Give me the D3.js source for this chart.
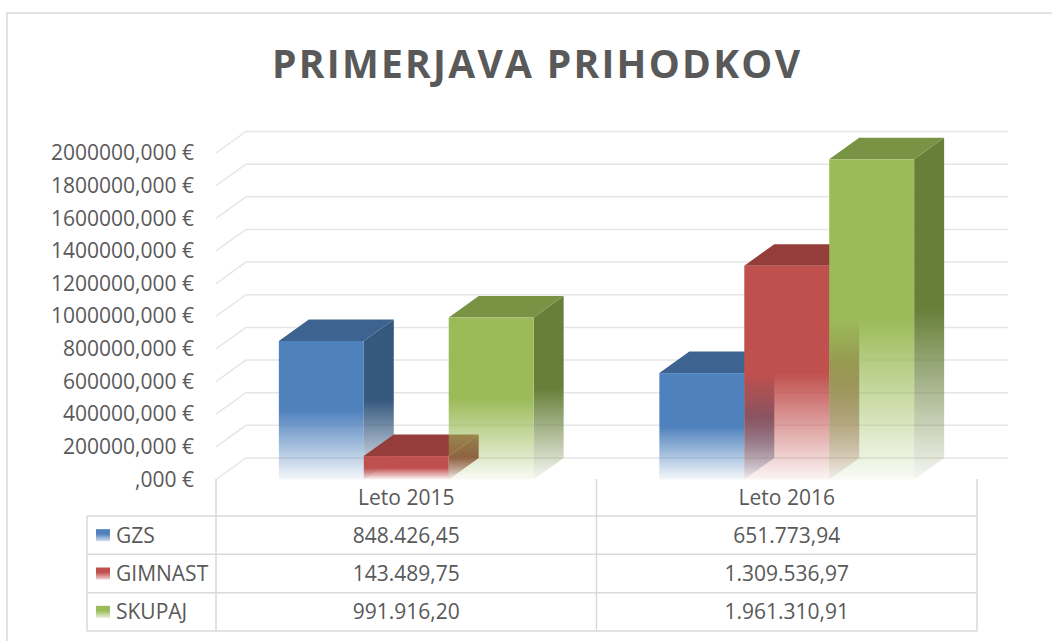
<!DOCTYPE html>
<html>
<head>
<meta charset="utf-8">
<script src="https://cdn.jsdelivr.net/npm/d3@7/dist/d3.min.js"></script>
<style>
  body { margin: 0; background: #fff; }
  text { font-family: "Open Sans", sans-serif; fill: #595959; }
</style>
</head>
<body>
<script>
// data
const categories = ["Leto 2015", "Leto 2016"];
const series = ["GZS", "GIMNAST", "SKUPAJ"];
const gzs = [848426.45, 651773.94];
const gimnast = [143489.75, 1309536.97];
const skupaj = [991916.20, 1961310.91];
const yTicks = [0, 200000, 400000, 600000, 800000, 1000000, 1200000, 1400000, 1600000, 1800000, 2000000];
const title = "PRIMERJAVA PRIHODKOV";

const values = [gzs, gimnast, skupaj];
const colors = [
    { front: "#4f81bd", top: "#3d6491", side: "#35587f" },
    { front: "#c0504d", top: "#943d3a", side: "#8a3937" },
    { front: "#9bbb59", top: "#789343", side: "#677f39" }
];

const width = 1052, height = 641;
// depth of the 3D box (offset of the back wall)
const depth = { dx: 30, dy: -21.5 };

const svg = d3.select("body").append("svg")
    .attr("width", width)
    .attr("height", height);

const defs = svg.append("defs");
colors.forEach((c, i) => {
    [["front", c.front], ["side", c.side]].forEach(([k, col]) => {
        const g = defs.append("linearGradient")
            .attr("id", "fade-" + k + "-" + i)
            .attr("x1", 0).attr("y1", 0).attr("x2", 0).attr("y2", 1);
        g.append("stop").attr("offset", 0).attr("stop-color", col).attr("stop-opacity", 1);
        g.append("stop").attr("offset", 0.5).attr("stop-color", col).attr("stop-opacity", 1);
        g.append("stop").attr("offset", 1).attr("stop-color", col).attr("stop-opacity", 0.06);
    });
    const lg = defs.append("linearGradient")
        .attr("id", "swatch-" + i)
        .attr("x1", 0).attr("y1", 0).attr("x2", 0).attr("y2", 1);
    lg.append("stop").attr("offset", 0.4).attr("stop-color", c.front);
    lg.append("stop").attr("offset", 1).attr("stop-color", c.front).attr("stop-opacity", 0.25);
});

// outer chart border
svg.append("path")
    .attr("d", "M7," + height + "V13H" + width)
    .attr("fill", "none")
    .attr("stroke", "#d9d9d9")
    .attr("stroke-width", 1.5);

// title
svg.append("text")
    .attr("x", 272)
    .attr("y", 78)
    .attr("textLength", 528)
    .attr("lengthAdjust", "spacing")
    .style("font-size", "39px")
    .style("font-weight", "bold")
    .text(title);

// scales
const x0 = d3.scaleBand()
    .domain(categories)
    .range([216, 977]);

const x1 = d3.scaleBand()
    .domain(series)
    .range([0, x0.bandwidth()])
    .paddingOuter(0.74);

const y = d3.scaleLinear()
    .domain([0, 2000000])
    .range([479.5, 153]);

// gridlines: left wall diagonals and back wall horizontals
const grid = svg.append("g")
    .attr("stroke", "#e6e6e6")
    .attr("stroke-width", 1.5)
    .attr("fill", "none");

grid.selectAll("path")
    .data(yTicks)
    .enter().append("path")
    .attr("d", d => "M" + x0.range()[0] + "," + y(d) +
        "L" + (x0.range()[0] + depth.dx) + "," + (y(d) + depth.dy) +
        "H" + (x0.range()[1] + depth.dx + 1));

// y axis labels
const fmtAxis = d => (d === 0 ? "" : d3.format("d")(d)) + ",000 €";
svg.append("g")
    .attr("transform", "translate(" + x0.range()[0] + ",0)")
    .call(d3.axisLeft(y).tickValues(yTicks).tickSize(0).tickPadding(22).tickFormat(fmtAxis))
    .call(g => g.select(".domain").remove())
    .selectAll("text")
    .style("font-size", "21px")
    .style("fill", "#595959")
    .style("font-family", "'Open Sans', sans-serif");

// 3D bars, drawn left to right so the next front face covers the previous side
const bars = svg.append("g");
categories.forEach((cat, ci) => {
    series.forEach((s, si) => {
        const v = values[si][ci];
        const xl = x0(cat) + x1(s), xr = xl + x1.bandwidth();
        const yt = y(v), yb = y(0);
        const dx = depth.dx, dy = depth.dy;

        bars.append("path")
            .attr("d", "M" + xr + "," + yt + "L" + (xr + dx) + "," + (yt + dy) +
                "L" + (xr + dx) + "," + (yb + dy) + "L" + xr + "," + yb + "Z")
            .attr("fill", "url(#fade-side-" + si + ")");

        bars.append("path")
            .attr("d", "M" + xl + "," + yt + "L" + (xl + dx) + "," + (yt + dy) +
                "L" + (xr + dx) + "," + (yt + dy) + "L" + xr + "," + yt + "Z")
            .attr("fill", colors[si].top);

        bars.append("rect")
            .attr("x", xl)
            .attr("y", yt)
            .attr("width", x1.bandwidth())
            .attr("height", yb - yt)
            .attr("fill", "url(#fade-front-" + si + ")");
    });
});

// data table
const fmtVal = d3.formatLocale({ decimal: ",", thousands: ".", grouping: [3], currency: ["", ""] }).format(",.2f");
const labelLeft = 87, headerTop = 479;
const rows = d3.scaleBand()
    .domain(series)
    .range([516, 631]);

const table = svg.append("g");
const lineStyle = sel => sel.attr("stroke", "#d9d9d9").attr("stroke-width", 1.5).attr("fill", "none");

table.selectAll("line.h")
    .data(series)
    .enter().append("line")
    .attr("class", "h")
    .attr("x1", labelLeft).attr("x2", x0.range()[1])
    .attr("y1", d => rows(d)).attr("y2", d => rows(d))
    .call(lineStyle);

table.append("line")
    .attr("x1", labelLeft).attr("x2", x0.range()[1])
    .attr("y1", rows.range()[1]).attr("y2", rows.range()[1])
    .call(lineStyle);

table.append("line")
    .attr("x1", labelLeft).attr("x2", labelLeft)
    .attr("y1", rows.range()[0]).attr("y2", rows.range()[1])
    .call(lineStyle);

table.selectAll("line.v")
    .data(categories.map(c => x0(c)).concat([x0.range()[1]]))
    .enter().append("line")
    .attr("class", "v")
    .attr("x1", d => d).attr("x2", d => d)
    .attr("y1", headerTop).attr("y2", rows.range()[1])
    .call(lineStyle);

// header
table.selectAll("text.cat")
    .data(categories)
    .enter().append("text")
    .attr("class", "cat")
    .attr("x", d => x0(d) + x0.bandwidth() / 2)
    .attr("y", (headerTop + rows.range()[0]) / 2)
    .attr("dy", "0.35em")
    .attr("text-anchor", "middle")
    .style("font-size", "21px")
    .text(d => d);

// row labels with legend keys
series.forEach((s, si) => {
    const cy = rows(s) + rows.bandwidth() / 2;
    table.append("rect")
        .attr("x", 96)
        .attr("y", cy - 6)
        .attr("width", 14)
        .attr("height", 12)
        .attr("fill", "url(#swatch-" + si + ")");
    table.append("text")
        .attr("x", 116)
        .attr("y", cy)
        .attr("dy", "0.35em")
        .style("font-size", "21px")
        .text(s);
    categories.forEach((cat, ci) => {
        table.append("text")
            .attr("x", x0(cat) + x0.bandwidth() / 2)
            .attr("y", cy)
            .attr("dy", "0.35em")
            .attr("text-anchor", "middle")
            .style("font-size", "21px")
            .text(fmtVal(values[si][ci]));
    });
});
</script>
</body>
</html>
